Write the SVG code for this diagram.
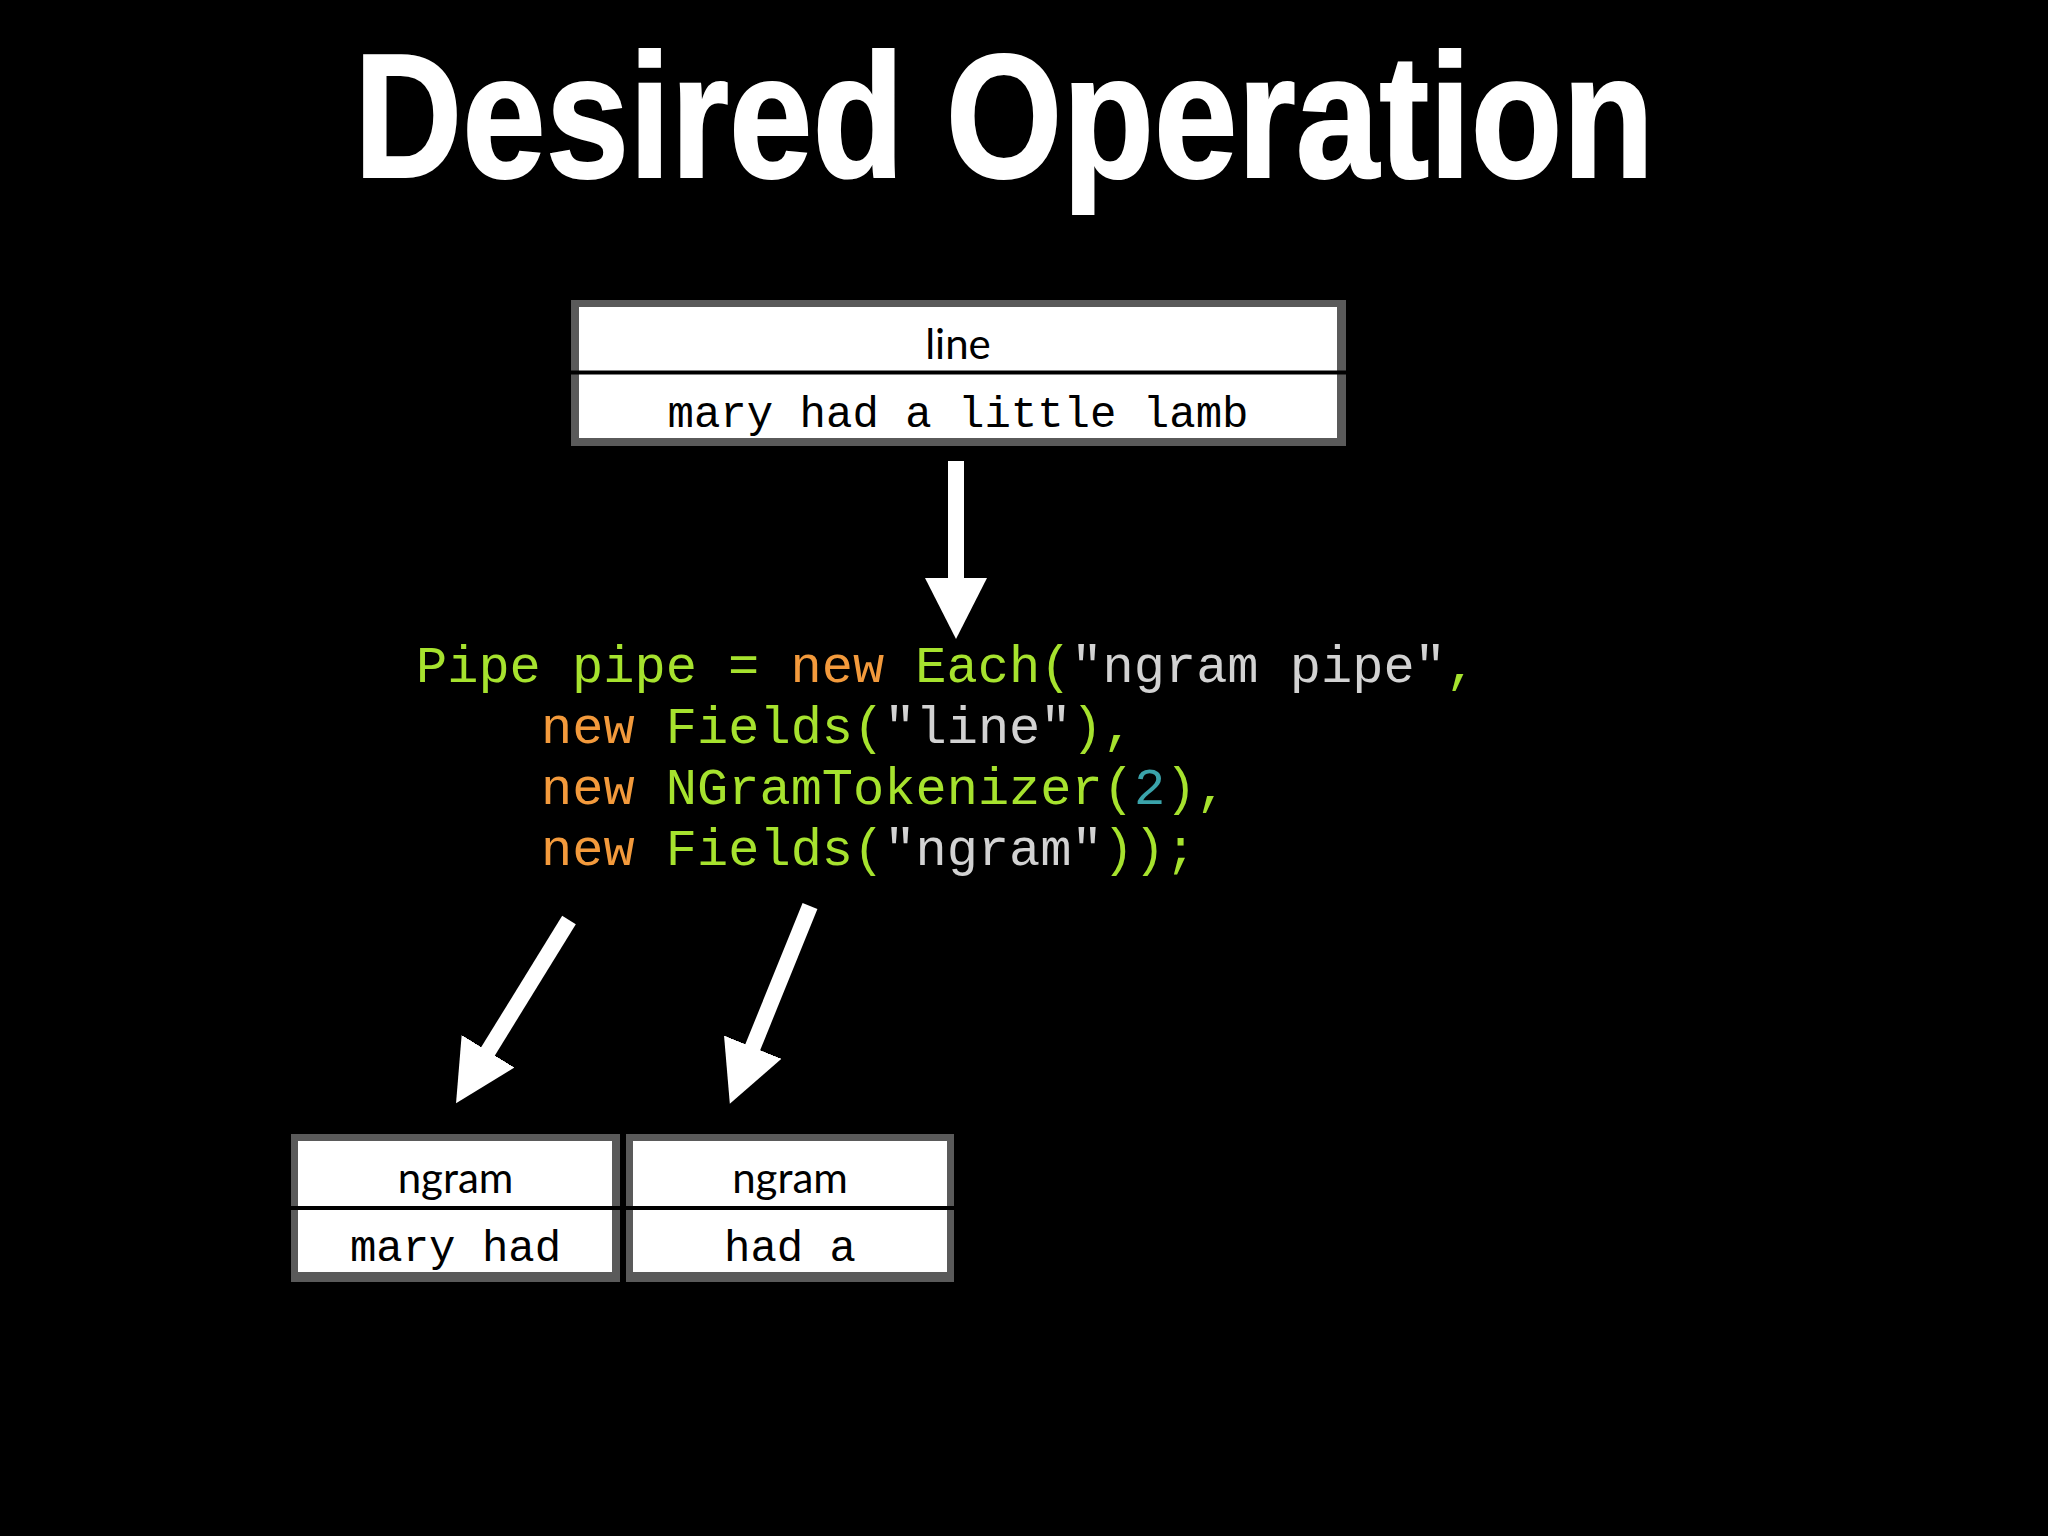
<svg xmlns="http://www.w3.org/2000/svg" width="2048" height="1536" viewBox="0 0 2048 1536">
  <style>
    .frame { fill: #5a5a5a; }
    .cell { fill: #ffffff; }
    .div { stroke: #000000; stroke-width: 4; }
    .hdr { font-family: Lato, "Liberation Sans", sans-serif; font-size: 42px; fill: #000; text-anchor: middle; }
    .val { font-family: "Liberation Mono", "Courier New", monospace; font-size: 44px; fill: #000; text-anchor: middle; }
    .code { font-family: "Liberation Mono", "Courier New", monospace; font-size: 52px; fill: #a6e22e; }
    .kw { fill: #f39a3c; }
    .str { fill: #d2d2d2; }
    .num { fill: #3aa3aa; }
    .arrow { stroke: #ffffff; stroke-width: 16; fill: none; marker-end: url(#head); }
  </style>
  <defs>
    <marker id="head" markerUnits="userSpaceOnUse" markerWidth="64" markerHeight="66" refX="2" refY="32" orient="auto" viewBox="0 0 64 66">
      <path d="M0,1 L61,32 L0,63 z" fill="#ffffff"/>
    </marker>
  </defs>
  <rect width="2048" height="1536" fill="#000"/>

  <text id="title" x="354" y="177" font-family="'Liberation Sans', Arial, sans-serif" font-weight="bold" font-size="176" fill="#fff" stroke="#fff" stroke-width="2" textLength="1300" lengthAdjust="spacingAndGlyphs">Desired Operation</text>

  <g id="node-line">
    <rect class="frame" x="571" y="300" width="775" height="146"/>
    <rect class="cell" x="579" y="307" width="758" height="131"/>
    <line class="div" x1="571" y1="372.5" x2="1346" y2="372.5"/>
    <text class="hdr" x="958" y="359">line</text>
    <text class="val" x="958" y="427">mary had a little lamb</text>
  </g>

  <g id="node-code">
    <text class="code" x="416" y="682">Pipe pipe = <tspan class="kw">new</tspan> Each(<tspan class="str">"ngram pipe"</tspan>,</text>
    <text class="code" x="541" y="743"><tspan class="kw">new</tspan> Fields(<tspan class="str">"line"</tspan>),</text>
    <text class="code" x="541" y="804"><tspan class="kw">new</tspan> NGramTokenizer(<tspan class="num">2</tspan>),</text>
    <text class="code" x="541" y="865"><tspan class="kw">new</tspan> Fields(<tspan class="str">"ngram"</tspan>));</text>
  </g>

  <g id="node-ngram1">
    <rect class="frame" x="291" y="1134" width="329" height="148"/>
    <rect class="cell" x="298" y="1141" width="314" height="131"/>
    <line class="div" x1="291" y1="1208" x2="620" y2="1208"/>
    <text class="hdr" x="455.5" y="1193">ngram</text>
    <text class="val" x="455.5" y="1261">mary had</text>
  </g>

  <g id="node-ngram2">
    <rect class="frame" x="626" y="1134" width="328" height="148"/>
    <rect class="cell" x="633" y="1141" width="314" height="131"/>
    <line class="div" x1="626" y1="1208" x2="954" y2="1208"/>
    <text class="hdr" x="790" y="1193">ngram</text>
    <text class="val" x="790" y="1261">had a</text>
  </g>

  <g id="connectors">
    <line class="arrow" x1="956" y1="461" x2="956" y2="580"/>
    <line class="arrow" x1="569" y1="920" x2="487" y2="1053"/>
    <line class="arrow" x1="810" y1="906" x2="752" y2="1049"/>
  </g>
</svg>
